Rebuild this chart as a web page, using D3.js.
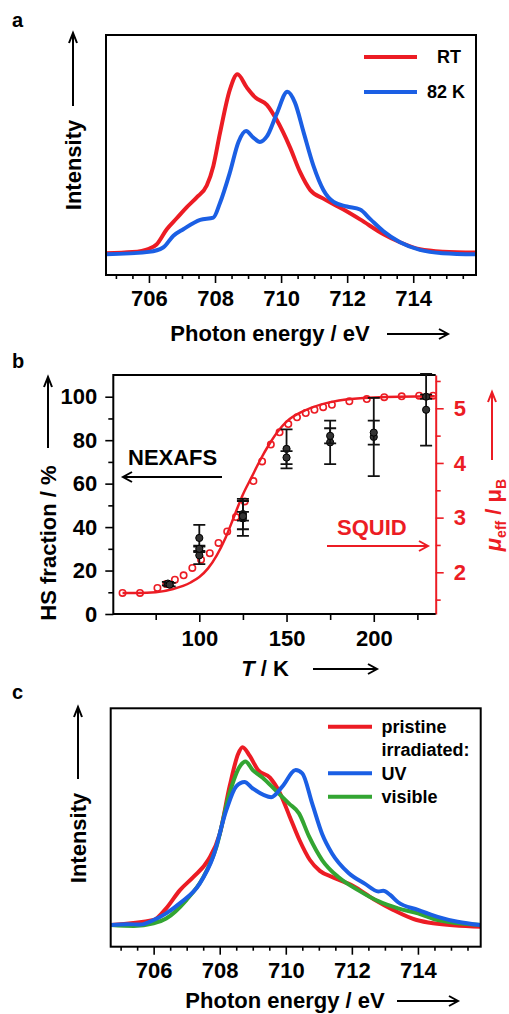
<!DOCTYPE html>
<html>
<head>
<meta charset="utf-8">
<script src="https://cdn.jsdelivr.net/npm/d3@7"></script>
<style>
body { margin: 0; background: #fff; }
text { font-family: "Liberation Sans", Arial, sans-serif; font-weight: bold; }
</style>
</head>
<body>
<svg id="fig" width="509" height="1014"></svg>
<script>
// ---- data ----
var energyDomain = [704.7, 715.9];
var energyTicks = [706, 708, 710, 712, 714];
var energyMinor = [705, 705.5, 706.5, 707, 707.5, 708.5, 709, 709.5, 710.5, 711, 711.5, 712.5, 713, 713.5, 714.5, 715, 715.5];
var intensityDomain = [-0.1, 1.0];

// panel a: [photon energy, intensity]
var rtSpectrum = [[704.7,0],[705.5,0.005],[706.0,0.02],[706.23,0.04],[706.54,0.11],[706.84,0.16],[707.14,0.21],[707.44,0.255],[707.75,0.31],[707.95,0.40],[708.15,0.55],[708.45,0.75],[708.68,0.82],[708.96,0.76],[709.21,0.715],[709.57,0.68],[709.87,0.61],[710.27,0.485],[710.58,0.37],[710.88,0.29],[711.28,0.25],[711.89,0.20],[712.39,0.155],[713.1,0.087],[713.6,0.05],[714.2,0.018],[714.9,0.007],[715.9,0.003]];
var k82Spectrum = [[704.7,-0.005],[706.0,0.006],[706.43,0.026],[706.74,0.08],[707.04,0.11],[707.55,0.153],[707.95,0.163],[708.15,0.23],[708.45,0.37],[708.71,0.51],[708.94,0.56],[709.16,0.53],[709.36,0.51],[709.57,0.535],[709.87,0.64],[710.19,0.74],[710.42,0.69],[710.68,0.555],[710.98,0.40],[711.28,0.29],[711.59,0.235],[711.99,0.214],[712.39,0.20],[712.7,0.156],[713.1,0.10],[713.6,0.05],[714.2,0.015],[714.9,0.0],[715.9,-0.005]];

// panel c
var pristineSpectrum = [[704.7,0],[706.0,0.023],[706.38,0.077],[706.79,0.16],[707.19,0.22],[707.65,0.30],[708.0,0.42],[708.3,0.64],[708.56,0.79],[708.69,0.82],[708.91,0.78],[709.16,0.715],[709.52,0.68],[709.82,0.61],[710.12,0.50],[710.42,0.39],[710.73,0.30],[711.03,0.25],[711.43,0.22],[712.04,0.18],[712.65,0.12],[713.25,0.07],[713.96,0.023],[714.46,0.008],[715.9,-0.008]];
var uvSpectrum = [[704.7,0],[705.2,0.004],[705.6,0.002],[706.0,0.023],[706.38,0.054],[706.79,0.10],[707.39,0.19],[707.8,0.315],[708.2,0.53],[708.5,0.64],[708.75,0.66],[709.0,0.63],[709.56,0.59],[709.9,0.64],[710.3,0.715],[710.5,0.70],[710.8,0.56],[711.1,0.42],[711.4,0.33],[711.9,0.24],[712.4,0.19],[712.8,0.155],[712.95,0.158],[713.15,0.14],[713.4,0.105],[714.0,0.07],[714.6,0.038],[715.2,0.015],[715.9,0.0]];
var visibleSpectrum = [[704.7,0],[705.4,-0.004],[706.0,0.008],[706.38,0.03],[706.99,0.115],[707.5,0.22],[707.9,0.36],[708.3,0.61],[708.6,0.73],[708.78,0.755],[709.0,0.715],[709.3,0.68],[709.7,0.62],[710.1,0.56],[710.4,0.515],[710.7,0.41],[711.1,0.30],[711.6,0.22],[712.2,0.16],[712.8,0.11],[713.4,0.077],[714.0,0.054],[714.6,0.023],[715.9,0.0]];

// panel b
var tDomain = [50.7, 235.5];
var tTicks = [100, 150, 200];
var tMinor = [75, 125, 175, 225];
var hsDomain = [0, 110];
var hsTicks = [0, 20, 40, 60, 80, 100];
var hsMinor = [10, 30, 50, 70, 90];
var muDomain = [1.237, 5.609];
var muTicks = [2, 3, 4, 5];
var muMinor = [1.5, 2.5, 3.5, 4.5, 5.5];

var nexafsT   = [82, 83, 100, 100, 100, 125, 125, 125, 150, 150, 175, 175, 200, 200, 230, 230];
var nexafsHS  = [14, 13.5, 35, 27, 30, 46, 44, 45, 76, 72, 79, 82, 81.5, 83.5, 100, 94];
var nexafsErr = [0.8, 0.8, 6, 4, 1.5, 7, 8, 2, 9, 3, 10, 3.5, 18, 5.5, 1, 16.5];

var squidT  = [56, 66, 76, 81, 86, 91, 96, 101, 106, 111, 116, 121, 126, 131, 136, 141, 146, 151, 156, 161, 166, 171, 176, 186, 196, 206, 216, 226, 234];
var squidHS = [9.7, 9.7, 12, 13.8, 15.8, 17.8, 21.2, 25, 28, 32.7, 38, 44.6, 51.8, 61.2, 70.2, 78, 83.6, 87.4, 90.5, 92.5, 94, 95.2, 96.3, 97.9, 98.9, 99.8, 100.2, 100.5, 100.5];

var fitT  = [56, 65, 75, 85, 95, 100, 105, 110, 115, 120, 125, 130, 135, 140, 145, 150, 160, 170, 180, 200, 235];
var fitHS = [9.7, 9.7, 10, 11.5, 14.5, 17, 21, 27, 35, 45, 55, 63, 71, 78, 84, 88.5, 93.5, 96.5, 98.3, 99.7, 100.2];

var RED = "#ec1c24", BLUE = "#1b5fe4", GREEN = "#33a532";

var svg = d3.select("#fig");

function hArrow(g, x1, x2, y, color) {
  var d = x2 > x1 ? 1 : -1;
  g.append("line").attr("x1", x1).attr("x2", x2).attr("y1", y).attr("y2", y)
    .attr("stroke", color).attr("stroke-width", 2);
  g.append("path").attr("d", "M" + (x2 - 9 * d) + "," + (y - 5) + "L" + x2 + "," + y + "L" + (x2 - 9 * d) + "," + (y + 5))
    .attr("fill", "none").attr("stroke", color).attr("stroke-width", 2);
}

function upArrow(g, x, y1, y2, color) {
  g.append("line").attr("x1", x).attr("x2", x).attr("y1", y1).attr("y2", y2)
    .attr("stroke", color).attr("stroke-width", 2);
  g.append("path").attr("d", "M" + (x - 4) + "," + (y2 + 10) + "L" + x + "," + y2 + "L" + (x + 4) + "," + (y2 + 10))
    .attr("fill", "none").attr("stroke", color).attr("stroke-width", 2);
}

function styleAxis(a, size, color) {
  a.attr("font-size", size).attr("font-family", "Liberation Sans, Arial, sans-serif").attr("font-weight", "bold");
  a.selectAll("line").attr("stroke", color).attr("stroke-width", 1.6);
  a.selectAll("text").attr("fill", color);
}

function spectrumPanel(p) {
  var g = svg.append("g");
  var x = d3.scaleLinear().domain(energyDomain).range([p.left, p.right]);
  var y = d3.scaleLinear().domain(intensityDomain).range([p.bottom, p.top]);

  var minor = g.append("g").attr("transform", "translate(0," + p.bottom + ")")
    .call(d3.axisBottom(x).tickValues(energyMinor).tickSize(4).tickFormat(""));
  minor.select(".domain").remove();
  styleAxis(minor, 22, "#000");

  var major = g.append("g").attr("transform", "translate(0," + p.bottom + ")")
    .call(d3.axisBottom(x).tickValues(energyTicks).tickSize(8).tickFormat(d3.format("d")));
  major.select(".domain").remove();
  styleAxis(major, 22, "#000");
  major.selectAll("text").attr("y", 23.5).attr("dy", "0.35em");

  var line = d3.line().x(function(d) { return x(d[0]); }).y(function(d) { return y(d[1]); })
    .curve(d3.curveMonotoneX);
  p.series.forEach(function(s) {
    g.append("path").datum(s.data).attr("d", line).attr("fill", "none")
      .attr("stroke", s.color).attr("stroke-width", 4).attr("stroke-linejoin", "round");
  });

  g.append("rect").attr("x", p.left).attr("y", p.top).attr("width", p.right - p.left)
    .attr("height", p.bottom - p.top).attr("fill", "none").attr("stroke", "#000").attr("stroke-width", 2);

  p.legend.forEach(function(l) {
    if (l.color) {
      g.append("line").attr("x1", l.x1).attr("x2", l.x2).attr("y1", l.y).attr("y2", l.y)
        .attr("stroke", l.color).attr("stroke-width", 4);
    }
    g.append("text").attr("x", l.tx).attr("y", l.y).attr("dy", "0.35em")
      .attr("font-size", 18).text(l.label);
  });

  // y label + arrow
  g.append("text").attr("transform", "translate(" + p.ylabX + "," + p.ylabY + ") rotate(-90)")
    .attr("text-anchor", "middle").attr("dy", "0.35em").attr("font-size", 22).text("Intensity");
  upArrow(g, p.ylabX, p.yArrow[0], p.yArrow[1], "#000");

  // x label + arrow
  g.append("text").attr("x", p.xlabX).attr("y", p.xlabY).attr("dy", "0.35em")
    .attr("text-anchor", "middle").attr("font-size", 22).text("Photon energy / eV");
  hArrow(g, p.xArrow[0], p.xArrow[1], p.xlabY + 1, "#000");

  g.append("text").attr("x", p.letter[0]).attr("y", p.letter[1]).attr("font-size", 20).text(p.letter[2]);
}

spectrumPanel({
  left: 106, right: 476, top: 35, bottom: 275,
  series: [{ data: rtSpectrum, color: RED }, { data: k82Spectrum, color: BLUE }],
  legend: [
    { color: RED, x1: 364, x2: 417, y: 57, tx: 437, label: "RT" },
    { color: BLUE, x1: 364, x2: 417, y: 92, tx: 427, label: "82 K" }
  ],
  ylabX: 73, ylabY: 165, yArrow: [106, 33],
  xlabX: 270, xlabY: 333, xArrow: [387, 448],
  letter: [12, 27, "a"]
});

spectrumPanel({
  left: 110.7, right: 480.7, top: 708.3, bottom: 946.7,
  series: [{ data: pristineSpectrum, color: RED }, { data: visibleSpectrum, color: GREEN }, { data: uvSpectrum, color: BLUE }],
  legend: [
    { color: RED, x1: 328, x2: 372, y: 726.7, tx: 381.5, label: "pristine" },
    { color: null, y: 750, tx: 381.5, label: "irradiated:" },
    { color: BLUE, x1: 328, x2: 372, y: 773.3, tx: 381.5, label: "UV" },
    { color: GREEN, x1: 328, x2: 372, y: 796.7, tx: 381.5, label: "visible" }
  ],
  ylabX: 78, ylabY: 838, yArrow: [779, 707],
  xlabX: 285, xlabY: 1000, xArrow: [397, 458],
  letter: [12, 699, "c"]
});

// ---- panel b ----
(function() {
  var L = 113.3, R = 435.7, T = 375, B = 614;
  var g = svg.append("g");
  var x = d3.scaleLinear().domain(tDomain).range([L, R]);
  var y = d3.scaleLinear().domain(hsDomain).range([B, T]);
  var yMu = d3.scaleLinear().domain(muDomain).range([B, T]);

  // bottom axis
  var bMinor = g.append("g").attr("transform", "translate(0," + B + ")")
    .call(d3.axisBottom(x).tickValues(tMinor).tickSize(6).tickFormat(""));
  bMinor.select(".domain").remove();
  styleAxis(bMinor, 22, "#000");
  var bMajor = g.append("g").attr("transform", "translate(0," + B + ")")
    .call(d3.axisBottom(x).tickValues(tTicks).tickSize(8).tickFormat(d3.format("d")));
  bMajor.select(".domain").remove();
  styleAxis(bMajor, 22, "#000");
  bMajor.selectAll("text").attr("y", 24).attr("dy", "0.35em");

  // left axis
  var lMinor = g.append("g").attr("transform", "translate(" + L + ",0)")
    .call(d3.axisLeft(y).tickValues(hsMinor).tickSize(5).tickFormat(""));
  lMinor.select(".domain").remove();
  styleAxis(lMinor, 22, "#000");
  var lMajor = g.append("g").attr("transform", "translate(" + L + ",0)")
    .call(d3.axisLeft(y).tickValues(hsTicks).tickSize(8).tickFormat(d3.format("d")));
  lMajor.select(".domain").remove();
  styleAxis(lMajor, 22, "#000");
  lMajor.selectAll("text").attr("x", -16);

  // right axis (red)
  var rMinor = g.append("g").attr("transform", "translate(" + R + ",0)")
    .call(d3.axisRight(yMu).tickValues(muMinor).tickSize(5).tickFormat(""));
  rMinor.select(".domain").remove();
  styleAxis(rMinor, 22, RED);
  var rMajor = g.append("g").attr("transform", "translate(" + R + ",0)")
    .call(d3.axisRight(yMu).tickValues(muTicks).tickSize(8).tickSizeOuter(0).tickFormat(d3.format("d")));
  styleAxis(rMajor, 22, RED);
  rMajor.select(".domain").attr("stroke", RED).attr("stroke-width", 2);
  rMajor.selectAll("text").attr("x", 18);

  // frame: top, left, bottom in black
  g.append("path").attr("d", "M" + R + "," + T + "H" + L + "V" + B + "H" + R)
    .attr("fill", "none").attr("stroke", "#000").attr("stroke-width", 2);

  // fit line
  var fit = fitT.map(function(t, i) { return [t, fitHS[i]]; });
  g.append("path").datum(fit)
    .attr("d", d3.line().x(function(d) { return x(d[0]); }).y(function(d) { return y(d[1]); }).curve(d3.curveMonotoneX))
    .attr("fill", "none").attr("stroke", RED).attr("stroke-width", 2.5);

  // SQUID circles
  g.selectAll("circle.squid").data(squidT).enter().append("circle").attr("class", "squid")
    .attr("cx", function(d) { return x(d); })
    .attr("cy", function(d, i) { return y(squidHS[i]); })
    .attr("r", 3.2).attr("fill", "none").attr("stroke", RED).attr("stroke-width", 1.6);

  // NEXAFS error bars + points
  var eb = g.selectAll("g.eb").data(nexafsT).enter().append("g").attr("class", "eb");
  eb.append("path").attr("d", function(d, i) {
    var cx = x(d), y1 = y(nexafsHS[i] + nexafsErr[i]), y2 = y(nexafsHS[i] - nexafsErr[i]);
    return "M" + cx + "," + y1 + "V" + y2 + "M" + (cx - 6) + "," + y1 + "H" + (cx + 6) + "M" + (cx - 6) + "," + y2 + "H" + (cx + 6);
  }).attr("fill", "none").attr("stroke", "#111").attr("stroke-width", 1.8);
  eb.append("circle").attr("cx", function(d) { return x(d); })
    .attr("cy", function(d, i) { return y(nexafsHS[i]); })
    .attr("r", 3.6).attr("fill", "#333").attr("stroke", "#000").attr("stroke-width", 1);

  // annotations
  g.append("text").attr("x", 128).attr("y", 457).attr("dy", "0.35em").attr("font-size", 22).text("NEXAFS");
  hArrow(g, 222, 123, 477, "#000");
  g.append("text").attr("x", 337).attr("y", 527).attr("dy", "0.35em").attr("font-size", 22).attr("fill", RED).text("SQUID");
  hArrow(g, 327, 428, 546, RED);

  // left label
  g.append("text").attr("transform", "translate(48,543) rotate(-90)")
    .attr("text-anchor", "middle").attr("dy", "0.35em").attr("font-size", 22).text("HS fraction / %");
  upArrow(g, 48, 448, 377, "#000");

  // right label (red)
  var mu = g.append("text").attr("transform", "translate(493,515) rotate(-90)")
    .attr("text-anchor", "middle").attr("y", 8).attr("font-size", 22).attr("fill", RED);
  mu.append("tspan").attr("font-style", "italic").text("μ");
  mu.append("tspan").attr("font-size", 14).attr("dy", 5).text("eff");
  mu.append("tspan").attr("dy", -5).text(" / μ");
  mu.append("tspan").attr("font-size", 14).attr("dy", 5).text("B");
  upArrow(g, 492, 460, 392, RED);

  // bottom label
  var tl = g.append("text").attr("x", 265).attr("y", 668).attr("dy", "0.35em")
    .attr("text-anchor", "middle").attr("font-size", 22);
  tl.append("tspan").attr("font-style", "italic").text("T");
  tl.append("tspan").text(" / K");
  hArrow(g, 313, 377, 669, "#000");

  g.append("text").attr("x", 12).attr("y", 368).attr("font-size", 20).text("b");
})();
</script>
</body>
</html>
